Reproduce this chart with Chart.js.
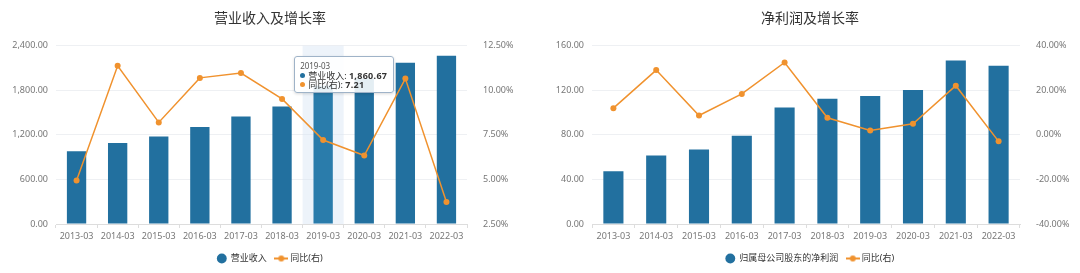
<!DOCTYPE html>
<html>
<head>
<meta charset="utf-8">
<script src="https://cdn.jsdelivr.net/npm/chart.js@4"></script>
<style>
  body { margin: 0; background: #fff; }
  .wrap { position: relative; float: left; width: 540px; height: 273px; }
  #tip {
    position: absolute; display: none;
    background: rgba(255,255,255,0.88);
    border: 1px solid #9fb3c8; border-radius: 3px;
    box-shadow: 0 1px 3px rgba(0,0,0,0.15);
    padding: 4px 6px 3px 5px;
    font-family: "Noto Sans", "Noto Sans CJK SC", sans-serif;
    font-size: 9px; color: #333; line-height: 9px; white-space: nowrap;
  }
  #tip .t { font-size: 8px; color: #555; margin-bottom: 1px; }
  #tip .dot { display: inline-block; width: 5px; height: 5px; border-radius: 50%; margin-right: 3px; vertical-align: 1px; }
  #tip b { font-size: 9px; letter-spacing: 0.3px; }
</style>
</head>
<body>
<div class="wrap"><canvas id="revChart" width="540" height="273"></canvas><div id="tip"></div></div>
<div class="wrap"><canvas id="profitChart" width="540" height="273"></canvas></div>
<script>
const years = ["2013-03", "2014-03", "2015-03", "2016-03", "2017-03", "2018-03", "2019-03", "2020-03", "2021-03", "2022-03"];

// 营业收入 (left chart)
const revenue = [980, 1090, 1180, 1305, 1448, 1582, 1860.67, 1960, 2172, 2266];
const revenueGrowth = [4.94, 11.38, 8.20, 10.70, 10.97, 9.52, 7.21, 6.34, 10.66, 3.73];

// 归属母公司股东的净利润 (right chart)
const netProfit = [47.4, 61.4, 66.8, 79.3, 104.6, 112.4, 115.0, 120.4, 146.9, 142.1];
const profitGrowth = [12.0, 29.1, 8.7, 18.4, 32.5, 7.7, 2.0, 5.0, 22.1, -2.9];

const hoverIndex = 6;

const BLUE = "#22709f";
const ORANGE = "#f0922e";
const FONT = "'Noto Sans', 'Noto Sans CJK SC', sans-serif";

function lineMarker() {
  const c = document.createElement("canvas");
  c.width = 14; c.height = 8;
  const g = c.getContext("2d");
  g.strokeStyle = ORANGE; g.lineWidth = 2;
  g.beginPath(); g.moveTo(0, 4); g.lineTo(14, 4); g.stroke();
  g.fillStyle = ORANGE;
  g.beginPath(); g.arc(7, 4, 3, 0, Math.PI * 2); g.fill();
  return c;
}
const legendLine = lineMarker();

function money(v) {
  return Number(v).toLocaleString("en-US", { minimumFractionDigits: 2, maximumFractionDigits: 2 });
}

const hoverBand = {
  id: "hoverBand",
  beforeDatasetsDraw(chart, args, opts) {
    if (opts.index == null) return;
    const x = chart.scales.x;
    const w = x.getPixelForValue(1) - x.getPixelForValue(0);
    const cx = x.getPixelForValue(opts.index);
    const a = chart.chartArea;
    chart.ctx.save();
    chart.ctx.fillStyle = "rgba(214,229,243,0.45)";
    chart.ctx.fillRect(cx - w / 2, a.top, w, a.bottom - a.top);
    chart.ctx.restore();
  }
};

function makeChart(id, title, barLabel, bars, growth, leftMin, leftMax, leftStep, rightMin, rightMax, rightStep, leftW, rightW, hover) {
  return new Chart(document.getElementById(id), {
    type: "bar",
    plugins: [hoverBand],
    data: {
      labels: years,
      datasets: [
        {
          type: "line",
          label: "同比(右)",
          data: growth,
          yAxisID: "y1",
          borderColor: ORANGE,
          backgroundColor: ORANGE,
          borderWidth: 1.5,
          pointRadius: 3,
          pointBorderWidth: 0,
          pointStyle: "circle",
          tension: 0,
          order: 0
        },
        {
          label: barLabel,
          data: bars,
          yAxisID: "y",
          backgroundColor: bars.map((v, i) => i === hover ? "#2a7cab" : BLUE),
          barPercentage: 0.47,
          categoryPercentage: 1,
          order: 1
        }
      ]
    },
    options: {
      responsive: false,
      animation: false,
      events: [],
      layout: { padding: 0 },
      plugins: {
        hoverBand: { index: hover },
        tooltip: { enabled: false },
        title: {
          display: true,
          text: title,
          color: "#333",
          font: { family: FONT, size: 14, weight: "normal" },
          padding: { top: 11, bottom: 18 }
        },
        legend: {
          position: "bottom",
          labels: {
            usePointStyle: true,
            boxHeight: 7,
            color: "#333",
            font: { family: FONT, size: 9 },
            padding: 10,
            generateLabels(chart) {
              return [
                { text: barLabel, fillStyle: BLUE, strokeStyle: BLUE, lineWidth: 0, pointStyle: "circle", datasetIndex: 1, fontColor: "#333" },
                { text: "同比(右)", fillStyle: ORANGE, strokeStyle: ORANGE, lineWidth: 0, pointStyle: legendLine, datasetIndex: 0, fontColor: "#333" }
              ];
            }
          }
        }
      },
      scales: {
        x: {
          offset: true,
          grid: { display: true, offset: true, drawOnChartArea: false, tickLength: 4, color: "#ddd" },
          border: { color: "#ddd" },
          ticks: { color: "#777", font: { family: FONT, size: 9 }, padding: 3, maxRotation: 0 },
          afterFit(s) { s.height = 20; }
        },
        y: {
          position: "left",
          min: leftMin, max: leftMax,
          ticks: { stepSize: leftStep, color: "#777", font: { family: FONT, size: 9 }, padding: 8, callback: v => money(v) },
          grid: { color: "#eef0f3", drawTicks: false },
          border: { display: false },
          afterFit(s) { s.width = leftW; }
        },
        y1: {
          position: "right",
          min: rightMin, max: rightMax,
          ticks: { stepSize: rightStep, color: "#777", font: { family: FONT, size: 9 }, padding: 8, callback: v => v.toFixed(2) + "%" },
          grid: { display: false },
          border: { display: false },
          afterFit(s) { s.width = rightW; }
        }
      }
    }
  });
}

const revChart = makeChart("revChart", "营业收入及增长率", "营业收入", revenue, revenueGrowth,
  0, 2400, 600, 2.5, 12.5, 2.5, 56, 73, hoverIndex);
makeChart("profitChart", "净利润及增长率", "归属母公司股东的净利润", netProfit, profitGrowth,
  0, 160, 40, -40, 40, 20, 52, 60, null);

// tooltip for the hovered 2019-03 column
const tip = document.getElementById("tip");
tip.innerHTML =
  '<div class="t">' + years[hoverIndex] + '</div>' +
  '<div><span class="dot" style="background:' + BLUE + '"></span>营业收入: <b>' + money(revenue[hoverIndex]) + '</b></div>' +
  '<div><span class="dot" style="background:' + ORANGE + '"></span>同比(右): <b>' + revenueGrowth[hoverIndex].toFixed(2) + '</b></div>';
const cx = revChart.scales.x.getPixelForValue(hoverIndex);
tip.style.left = (cx - 29) + "px";
tip.style.top = (revChart.chartArea.top + 10) + "px";
tip.style.display = "block";
</script>
</body>
</html>
